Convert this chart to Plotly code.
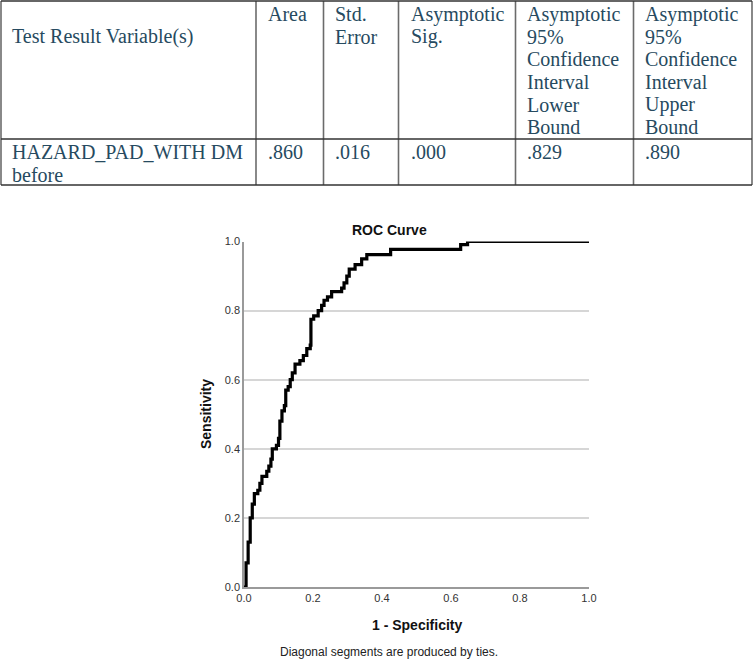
import plotly.graph_objects as go

# ---- table data ----
table_headers = ["Test Result Variable(s)", "Area", "Std.\nError", "Asymptotic\nSig.",
                 "Asymptotic\n95%\nConfidence\nInterval\nLower\nBound",
                 "Asymptotic\n95%\nConfidence\nInterval\nUpper\nBound"]
table_row = ["HAZARD_PAD_WITH DM\nbefore", ".860", ".016", ".000", ".829", ".890"]

# ---- ROC curve data (1 - specificity, sensitivity) ----
fpr = [0.000, 0.006, 0.012, 0.018, 0.024, 0.030, 0.040, 0.046, 0.052, 0.066, 0.072, 0.078,
       0.082, 0.094, 0.100, 0.104, 0.110, 0.117, 0.121, 0.128, 0.134, 0.140, 0.148, 0.162,
       0.172, 0.182, 0.192, 0.194, 0.202, 0.215, 0.225, 0.232, 0.242, 0.254, 0.283, 0.290,
       0.298, 0.305, 0.322, 0.341, 0.356, 0.425, 0.628, 0.648, 1.000]
tpr = [0.000, 0.070, 0.130, 0.200, 0.240, 0.270, 0.280, 0.300, 0.320, 0.335, 0.350, 0.370,
       0.400, 0.410, 0.430, 0.480, 0.510, 0.525, 0.570, 0.580, 0.600, 0.620, 0.645, 0.655,
       0.670, 0.690, 0.700, 0.775, 0.785, 0.800, 0.815, 0.830, 0.840, 0.855, 0.865, 0.880,
       0.900, 0.920, 0.933, 0.950, 0.962, 0.977, 0.991, 1.000, 1.000]
tick_vals = [0.0, 0.2, 0.4, 0.6, 0.8, 1.0]
tick_text = ["0.0", "0.2", "0.4", "0.6", "0.8", "1.0"]

W, H = 753, 660
def px(x): return x / W
def py(y): return 1 - y / H

fig = go.Figure()
fig.add_trace(go.Scatter(x=fpr, y=tpr, mode="lines", line=dict(color="black", width=3.2, shape="hv"),
                         cliponaxis=False, showlegend=False, hoverinfo="skip"))

shapes = []
annotations = []
# table geometry (pixels)
col_edges = [1, 256, 323.5, 398.5, 515.5, 633.5, 752]
row_edges = [1, 139, 185]
bc = "#6b6b6b"
for xe in col_edges:
    shapes.append(dict(type="line", xref="paper", yref="paper", x0=px(xe), x1=px(xe),
                       y0=py(row_edges[0]), y1=py(row_edges[-1]), line=dict(color=bc, width=1.6)))
for ye in row_edges:
    shapes.append(dict(type="line", xref="paper", yref="paper", x0=px(col_edges[0]), x1=px(col_edges[-1]),
                       y0=py(ye), y1=py(ye), line=dict(color="#333333", width=1.4)))

tfont = dict(family="Liberation Serif, Times New Roman, serif", size=20, color="#264a60")
lh = 22.7
text_left = [10, 266, 333, 409, 525, 643]
header_top = [37, 14, 14, 14, 14, 14]
for i, h in enumerate(table_headers):
    for j, line in enumerate(h.split("\n")):
        annotations.append(dict(text=line, xref="paper", yref="paper", x=px(text_left[i]),
                                y=py(header_top[i] + j * lh), xanchor="left", yanchor="middle",
                                showarrow=False, font=tfont))
for i, c in enumerate(table_row):
    for j, line in enumerate(c.split("\n")):
        annotations.append(dict(text=line, xref="paper", yref="paper", x=px(text_left[i]),
                                y=py(152 + j * lh), xanchor="left", yanchor="middle",
                                showarrow=False, font=tfont))

sfont_b = dict(family="Liberation Sans, Arial, sans-serif", size=14, color="#111111")
annotations.append(dict(text="<b>ROC Curve</b>", xref="paper", yref="paper", x=px(389.5), y=py(230),
                        xanchor="center", yanchor="middle", showarrow=False, font=sfont_b))
annotations.append(dict(text="<b>1 - Specificity</b>", xref="paper", yref="paper", x=px(417.5), y=py(625),
                        xanchor="center", yanchor="middle", showarrow=False, font=sfont_b))
annotations.append(dict(text="<b>Sensitivity</b>", xref="paper", yref="paper", x=px(206), y=py(414),
                        xanchor="center", yanchor="middle", showarrow=False, textangle=-90, font=sfont_b))
annotations.append(dict(text="Diagonal segments are produced by ties.", xref="paper", yref="paper",
                        x=px(388.5), y=py(652), xanchor="center", yanchor="middle", showarrow=False,
                        font=dict(family="Liberation Sans, Arial, sans-serif", size=12, color="#222222")))

tickfont = dict(family="Liberation Sans, Arial, sans-serif", size=11, color="#333333")
fig.update_layout(
    width=W, height=H, margin=dict(l=0, r=0, t=0, b=0, pad=0, autoexpand=False),
    paper_bgcolor="white", plot_bgcolor="white",
    shapes=shapes, annotations=annotations,
    xaxis=dict(domain=[px(244), px(589)], range=[0, 1], tickvals=tick_vals, ticktext=tick_text,
               showgrid=False, zeroline=False, showline=True, linecolor="#9a9a9a", linewidth=1.5,
               ticks="", tickfont=tickfont, fixedrange=True, automargin=False),
    yaxis=dict(domain=[py(587), py(241.5)], range=[0, 1], tickvals=tick_vals, ticktext=tick_text,
               showgrid=True, gridcolor="#d6d6d6", gridwidth=1.5, zeroline=False, showline=True,
               linecolor="#9a9a9a", linewidth=1.5, ticks="", tickfont=tickfont, fixedrange=True,
               automargin=False),
)

fig.write_html("out.html", config={"displayModeBar": False},
               post_script="document.body.style.margin='0px'; document.body.style.overflow='hidden';")
